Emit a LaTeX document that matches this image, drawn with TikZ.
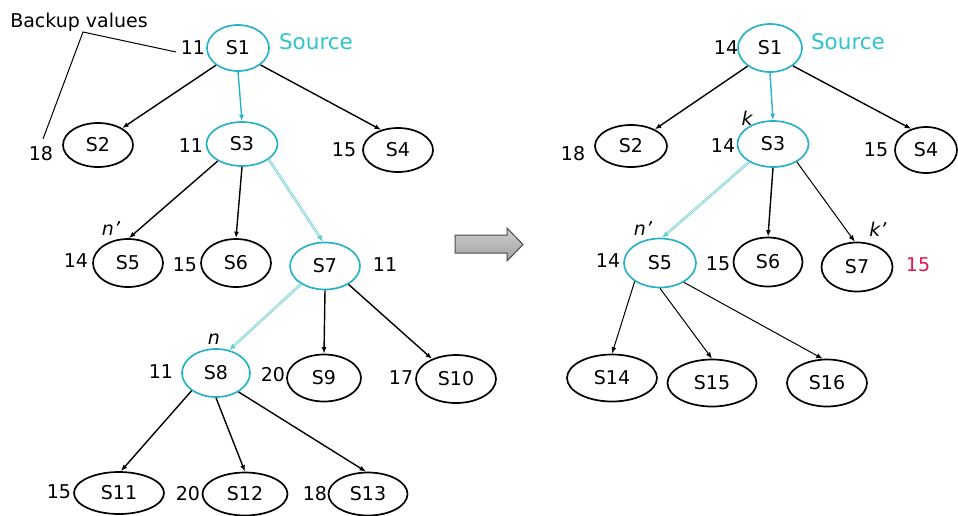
\documentclass[tikz,border=0pt]{standalone}
\usepackage{fontspec}
\setmainfont{DejaVu Sans}
\usetikzlibrary{shapes.geometric,arrows.meta}

\definecolor{srccyan}{RGB}{48,196,204}
\definecolor{pathcyan}{RGB}{40,178,198}
\definecolor{palecyan}{RGB}{110,205,210}
\definecolor{newval}{RGB}{232,22,82}

\tikzset{
  state/.style={ellipse, draw, line width=1.7pt, inner sep=0pt,
    minimum width=70pt, minimum height=46pt,
    font=\fontsize{19}{21}\selectfont},
  onpath/.style={state, draw=pathcyan},
  val/.style={inner sep=0pt, font=\fontsize{19}{21}\selectfont},
  tag/.style={inner sep=0pt, font=\fontsize{19}{21}\selectfont\itshape},
  srclabel/.style={inner sep=0pt, anchor=base, text=srccyan,
    font=\fontsize{21.5}{24}\selectfont},
  edge/.style={line width=1.4pt, -{Latex[length=6.5pt,width=5pt]}},
  thinedge/.style={line width=1.0pt, -{Latex[length=6.5pt,width=5pt]}},
  cyanedge/.style={edge, draw=pathcyan},
  paleedge/.style={draw=palecyan, double=palecyan!30, double distance=1pt,
    line width=0.7pt, -{Latex[length=6.5pt,width=5.5pt]}},
}

\begin{document}
\begin{tikzpicture}[x=1pt,y=-1pt]
\useasboundingbox (0,0) rectangle (958,515);

% ---------------- tree before the update ----------------
\node[onpath, minimum width=62pt, minimum height=46pt] (L1) at (238,48) {S1};
\node[state, minimum width=70pt, minimum height=44pt] (L2) at (98,145) {S2};
\node[onpath, minimum width=71pt, minimum height=44pt] (L3) at (242,144) {S3};
\node[state, minimum width=70pt, minimum height=44pt] (L4) at (398,150) {S4};
\node[state, minimum width=70pt, minimum height=48pt] (L5) at (128,263) {S5};
\node[state, minimum width=70pt, minimum height=48pt] (L6) at (236,263) {S6};
\node[onpath, minimum width=70pt, minimum height=47pt] (L7) at (325,266) {S7};
\node[onpath, minimum width=68pt, minimum height=48pt] (L8) at (216,373) {S8};
\node[state, minimum width=74pt, minimum height=47pt] (L9) at (324,378) {S9};
\node[state, minimum width=80pt, minimum height=48pt] (L10) at (456,379) {S10};
\node[state, minimum width=90pt, minimum height=42pt] (L11) at (119,493) {S11};
\node[state, minimum width=85pt, minimum height=43pt] (L12) at (245,494) {S12};
\node[state, minimum width=79pt, minimum height=43pt] (L13) at (368,494) {S13};

% backup values
\node[val] (vL1) at (193,48) {11};
\node[val] (vL2) at (41,154) {18};
\node[val] (vL3) at (191,146) {11};
\node[val] (vL4) at (344,150) {15};
\node[val] (vL5) at (76,261) {14};
\node[val] (vL6) at (185,265) {15};
\node[val] (vL7) at (385,265) {11};
\node[val] (vL8) at (161,372) {11};
\node[val] (vL9) at (273,375) {20};
\node[val] (vL10) at (401,378) {17};
\node[val] (vL11) at (59,492) {15};
\node[val] (vL12) at (188,494) {20};
\node[val] (vL13) at (315,494) {18};

\node[tag] (tnL5) at (111,229) {n'};
\node[tag] (tnL8) at (214,339) {n};
\node[srclabel] (srcL) at (316,49) {Source};

% annotation
\node[inner sep=0pt, anchor=base, font=\fontsize{19}{21}\selectfont]
  (backup) at (79,27) {Backup values};
\coordinate (fork) at (83,32);
\coordinate (toS1) at (176,52);
\coordinate (toS2) at (43,139);
\draw[line width=1pt] (toS1) -- (fork) -- (toS2);

% edges
\draw[edge] (L1.218) -- (L2.35);
\draw[cyanedge] (L1.south) -- (L3.north);
\draw[edge] (L1.-37) -- (L4.130);
\draw[edge] (L3.215) -- (L5.88);
\draw[edge] (L3.south) -- (L6.north);
\draw[paleedge] (L3.-30) -- (L7.95);
\draw[paleedge] (L7.217) -- (L8.60);
\draw[edge] (L7.south) -- (L9.north);
\draw[edge] (L7.-38) -- (L10.140);
\draw[edge] (L8.216) -- (L11.85);
\draw[edge] (L8.south) -- (L12.north);
\draw[edge] (L8.-40) -- (L13.95);

% ---------------- transition arrow ----------------
\shade[top color=gray!40, bottom color=gray!75, middle color=gray!55,
       draw=black!70, line width=1pt]
  (455,235) -- (507,235) -- (507,228) -- (523,244.5) -- (507,261)
  -- (507,253) -- (455,253) -- cycle;

% ---------------- tree after the update ----------------
\node[onpath, minimum width=64pt, minimum height=48pt] (R1) at (770,48) {S1};
\node[state, minimum width=72pt, minimum height=42pt] (R2) at (631,146) {S2};
\node[onpath, minimum width=71pt, minimum height=46pt] (R3) at (773,144) {S3};
\node[state, minimum width=62pt, minimum height=46pt] (R4) at (926,150) {S4};
\node[onpath, minimum width=72pt, minimum height=49pt] (R5) at (660,263) {S5};
\node[state, minimum width=69pt, minimum height=49pt] (R6) at (768,262) {S6};
\node[state, minimum width=71pt, minimum height=49pt] (R7) at (857,267) {S7};
\node[state, minimum width=90pt, minimum height=47pt] (R14) at (612,378) {S14};
\node[state, minimum width=89pt, minimum height=47pt] (R15) at (712,383) {S15};
\node[state, minimum width=80pt, minimum height=47pt] (R16) at (827,383) {S16};

\node[val] (vR1) at (726,48) {14};
\node[val] (vR2) at (573,154) {18};
\node[val] (vR3) at (723,146) {14};
\node[val] (vR4) at (876,150) {15};
\node[val] (vR5) at (608,261) {14};
\node[val] (vR6) at (718,264) {15};
\node[val, text=newval] (vR7) at (918,265) {15};

\node[tag] (tkR3) at (747,118) {k};
\node[tag] (tnR5) at (643,229) {n'};
\node[tag] (tkR7) at (878,229) {k'};
\node[srclabel] (srcR) at (848,49) {Source};

\draw[edge] (R1.219) -- (R2.35);
\draw[cyanedge] (R1.south) -- (R3.north);
\draw[edge] (R1.-38) -- (R4.125);
\draw[paleedge] (R3.217) -- (R5.85);
\draw[edge] (R3.south) -- (R6.north);
\draw[thinedge] (R3.-37) -- (R7.95);
\draw[thinedge] (R5.216) -- (R14.north);
\draw[thinedge] (R5.south) -- (R15.north);
\draw[thinedge] (R5.-39) -- (R16.100);
\end{tikzpicture}
\end{document}
